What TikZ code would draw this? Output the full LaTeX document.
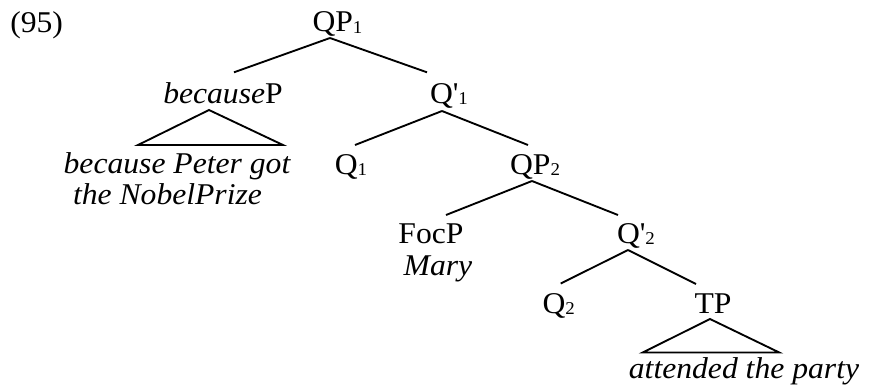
\documentclass[tikz,border=0pt]{standalone}
\usepackage{fontspec}
\setmainfont{Liberation Serif}[FakeStretch=1.05]
\newcommand\sbs[1]{\raisebox{-1.4pt}{\fontsize{13.5}{14}\selectfont #1}}
\begin{document}
\begin{tikzpicture}[x=0.75pt,y=-0.75pt,
  lbl/.style={anchor=base, inner sep=0pt, font=\fontsize{22.6}{26}\selectfont},
  it/.style={lbl, font=\fontsize{22.6}{26}\selectfont\itshape},
  edge/.style={line width=1.4pt, line join=miter}]
\useasboundingbox (0,0) rectangle (869,387);
% labels
\node[lbl, anchor=base west] (ex) at (10,32) {(95)};
\node[lbl] (qp1) at (337.5,31.5) {QP\sbs{1}};
\node[lbl] (bp) at (223,103) {{\itshape because}P};
\node[lbl] (qb1) at (449,103) {Q\textquotesingle\sbs{1}};
\node[it] (bpg) at (177,173.3) {because Peter got};
\node[it] (nob) at (167.5,204) {the NobelPrize};
\node[lbl] (q1) at (351,174) {Q\sbs{1}};
\node[lbl] (qp2) at (535,174) {QP\sbs{2}};
\node[lbl] (foc) at (431,243) {FocP};
\node[it] (mary) at (438,275) {Mary};
\node[lbl] (qb2) at (636,243) {Q\textquotesingle\sbs{2}};
\node[lbl] (q2) at (558.7,313) {Q\sbs{2}};
\node[lbl] (tp) at (713,313) {TP};
\node[it] (att) at (744,378) {attended the party};
% connector ends
\coordinate (qp1-b) at (330,38);
\coordinate (bp-t) at (234,72.3);
\coordinate (bp-b) at (209,110);
\coordinate (bp-l) at (138,145);
\coordinate (bp-r) at (283,145);
\coordinate (qb1-t) at (427,72.3);
\coordinate (qb1-b) at (442,111);
\coordinate (q1-t) at (355,145);
\coordinate (qp2-t) at (528,145);
\coordinate (qp2-b) at (532,181);
\coordinate (foc-t) at (446,215);
\coordinate (qb2-t) at (618,215);
\coordinate (qb2-b) at (628,250);
\coordinate (q2-t) at (560.7,283.5);
\coordinate (tp-t) at (696,284);
\coordinate (tp-b) at (710,319);
\coordinate (tp-l) at (642.7,352.5);
\coordinate (tp-r) at (779.3,352.5);
% connectors
\draw[edge] (qp1-b) -- (bp-t);
\draw[edge] (qp1-b) -- (qb1-t);
\draw[edge] (bp-b) -- (bp-l) -- (bp-r) -- cycle;
\draw[edge] (qb1-b) -- (q1-t);
\draw[edge] (qb1-b) -- (qp2-t);
\draw[edge] (qp2-b) -- (foc-t);
\draw[edge] (qp2-b) -- (qb2-t);
\draw[edge] (qb2-b) -- (q2-t);
\draw[edge] (qb2-b) -- (tp-t);
\draw[edge] (tp-b) -- (tp-l) -- (tp-r) -- cycle;
\end{tikzpicture}
\end{document}
